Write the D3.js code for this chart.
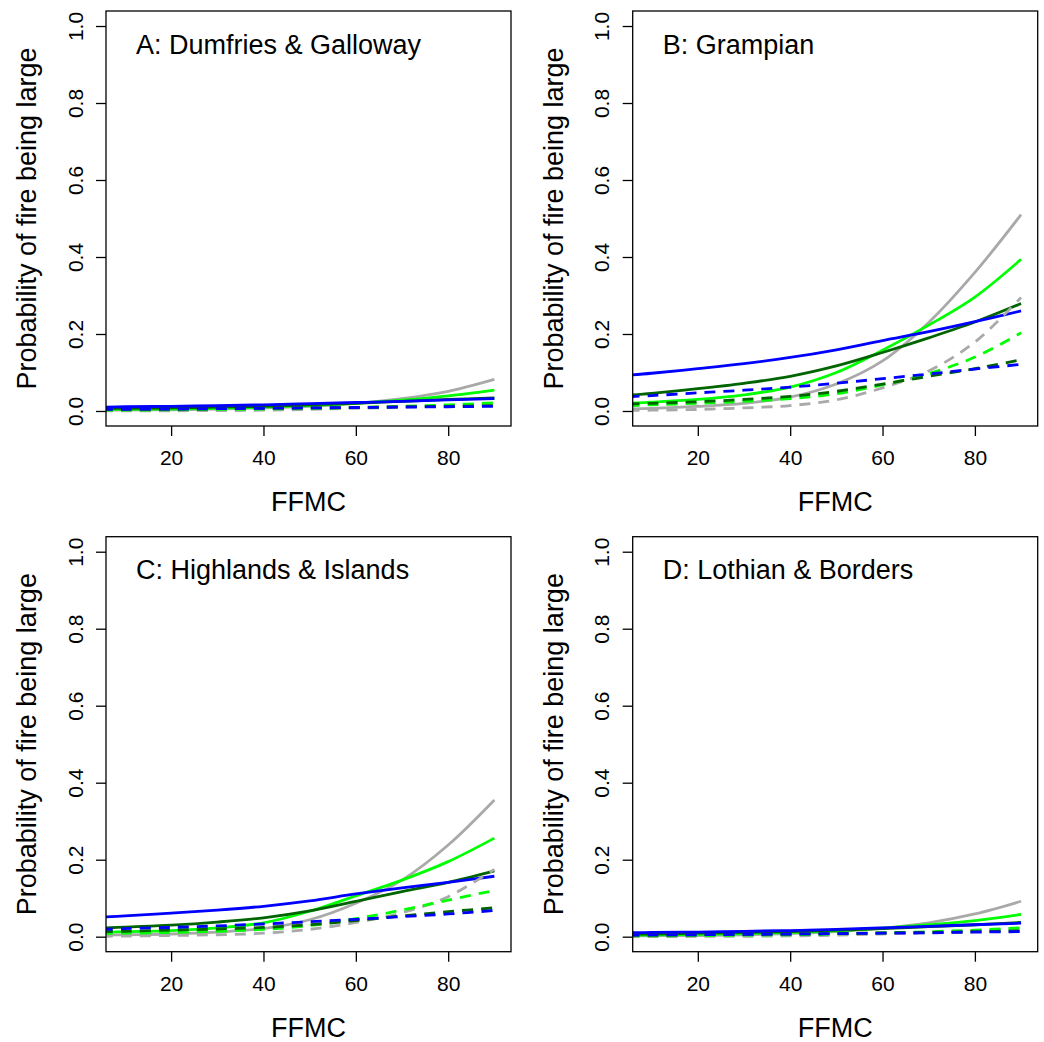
<!DOCTYPE html>
<html>
<head>
<meta charset="utf-8">
<script src="https://cdn.jsdelivr.net/npm/d3@7"></script>
<style>
  body { margin: 0; background: white; }
  svg { display: block; font-family: "Liberation Sans", Arial, sans-serif; }
</style>
</head>
<body>
<svg width="1044" height="1042"></svg>
<script>
// ---- data ----
const ffmc = [5, 10, 20, 30, 40, 50, 60, 70, 80, 90];
const xTicks = [20, 40, 60, 80];
const yTicks = [0, 0.2, 0.4, 0.6, 0.8, 1.0];
const panelTitles = ["A: Dumfries & Galloway", "B: Grampian", "C: Highlands & Islands", "D: Lothian & Borders"];

// A: Dumfries & Galloway
const aGrey      = [0.002, 0.0025, 0.003, 0.005, 0.008, 0.012, 0.02, 0.032, 0.051, 0.082];
const aGreen     = [0.004, 0.0045, 0.005, 0.007, 0.01, 0.014, 0.02, 0.028, 0.039, 0.054];
const aDarkGreen = [0.006, 0.007, 0.008, 0.01, 0.012, 0.016, 0.02, 0.025, 0.03, 0.034];
const aBlue      = [0.01, 0.011, 0.012, 0.014, 0.016, 0.019, 0.022, 0.025, 0.029, 0.032];
const aGreyDash      = [0.0003, 0.0004, 0.0006, 0.001, 0.002, 0.004, 0.007, 0.01, 0.014, 0.02];
const aGreenDash     = [0.002, 0.002, 0.003, 0.004, 0.005, 0.007, 0.009, 0.012, 0.016, 0.021];
const aDarkGreenDash = [0.004, 0.004, 0.005, 0.006, 0.007, 0.008, 0.009, 0.011, 0.012, 0.014];
const aBlueDash      = [0.004, 0.0045, 0.005, 0.006, 0.007, 0.008, 0.009, 0.01, 0.011, 0.012];

// B: Grampian
const bGrey      = [0.005, 0.007, 0.012, 0.02, 0.036, 0.07, 0.13, 0.23, 0.36, 0.51];
const bGreen     = [0.02, 0.023, 0.03, 0.042, 0.062, 0.1, 0.158, 0.223, 0.296, 0.394];
const bDarkGreen = [0.041, 0.046, 0.058, 0.072, 0.09, 0.117, 0.152, 0.19, 0.231, 0.279];
const bBlue      = [0.093, 0.098, 0.11, 0.123, 0.139, 0.159, 0.183, 0.206, 0.232, 0.26];
const bGreyDash      = [0.0015, 0.002, 0.004, 0.008, 0.014, 0.029, 0.06, 0.104, 0.179, 0.295];
const bGreenDash     = [0.014, 0.016, 0.02, 0.025, 0.032, 0.045, 0.068, 0.097, 0.14, 0.203];
const bDarkGreenDash = [0.018, 0.02, 0.024, 0.03, 0.038, 0.051, 0.07, 0.09, 0.11, 0.133];
const bBlueDash      = [0.037, 0.04, 0.047, 0.054, 0.062, 0.072, 0.084, 0.096, 0.109, 0.121];

// C: Highlands & Islands
const cGrey      = [0.004, 0.005, 0.007, 0.012, 0.021, 0.044, 0.087, 0.147, 0.238, 0.355];
const cGreen     = [0.011, 0.013, 0.016, 0.023, 0.036, 0.066, 0.106, 0.147, 0.195, 0.256];
const cDarkGreen = [0.022, 0.025, 0.03, 0.038, 0.049, 0.067, 0.092, 0.117, 0.141, 0.171];
const cBlue      = [0.051, 0.054, 0.061, 0.069, 0.079, 0.093, 0.111, 0.127, 0.141, 0.157];
const cGreyDash      = [0.001, 0.0015, 0.003, 0.005, 0.009, 0.019, 0.037, 0.062, 0.104, 0.175];
const cGreenDash     = [0.008, 0.009, 0.011, 0.014, 0.019, 0.029, 0.047, 0.069, 0.095, 0.12];
const cDarkGreenDash = [0.013, 0.014, 0.017, 0.02, 0.024, 0.031, 0.042, 0.054, 0.065, 0.075];
const cBlueDash      = [0.019, 0.021, 0.024, 0.028, 0.033, 0.039, 0.045, 0.052, 0.059, 0.068];

// D: Lothian & Borders
const dGrey      = [0.002, 0.0025, 0.003, 0.005, 0.008, 0.013, 0.022, 0.036, 0.059, 0.092];
const dGreen     = [0.004, 0.0045, 0.006, 0.008, 0.011, 0.015, 0.022, 0.031, 0.042, 0.058];
const dDarkGreen = [0.007, 0.007, 0.009, 0.011, 0.013, 0.017, 0.021, 0.026, 0.031, 0.037];
const dBlue      = [0.01, 0.011, 0.012, 0.014, 0.016, 0.019, 0.023, 0.027, 0.031, 0.035];
const dGreyDash      = [0.0003, 0.0004, 0.0006, 0.001, 0.002, 0.004, 0.007, 0.01, 0.015, 0.022];
const dGreenDash     = [0.002, 0.002, 0.003, 0.004, 0.005, 0.007, 0.01, 0.013, 0.017, 0.023];
const dDarkGreenDash = [0.004, 0.004, 0.005, 0.006, 0.007, 0.008, 0.01, 0.011, 0.013, 0.015];
const dBlueDash      = [0.004, 0.0045, 0.005, 0.006, 0.007, 0.008, 0.009, 0.01, 0.012, 0.013];

// ---- layout ----
const colours = ["#a9a9a9", "#00ff00", "#006400", "#0000ff"];
const panels = [
  { title: panelTitles[0], left: 106, top: 11, solid: [aGrey, aGreen, aDarkGreen, aBlue], dashed: [aGreyDash, aGreenDash, aDarkGreenDash, aBlueDash] },
  { title: panelTitles[1], left: 632.7, top: 11, solid: [bGrey, bGreen, bDarkGreen, bBlue], dashed: [bGreyDash, bGreenDash, bDarkGreenDash, bBlueDash] },
  { title: panelTitles[2], left: 106, top: 536.7, solid: [cGrey, cGreen, cDarkGreen, cBlue], dashed: [cGreyDash, cGreenDash, cDarkGreenDash, cBlueDash] },
  { title: panelTitles[3], left: 632.7, top: 536.7, solid: [dGrey, dGreen, dDarkGreen, dBlue], dashed: [dGreyDash, dGreenDash, dDarkGreenDash, dBlueDash] }
];
const boxW = 405, boxH = 415;

const svg = d3.select("svg");

const x = d3.scaleLinear().domain([5.9, 93.6]).range([0, boxW]);
const y = d3.scaleLinear().domain([-0.039, 1.039]).range([boxH, 0]);

const line = d3.line()
  .x((d, i) => x(ffmc[i]))
  .y(d => y(d))
  .curve(d3.curveCatmullRom.alpha(0.5));

panels.forEach((p, k) => {
  const g = svg.append("g").attr("transform", `translate(${p.left},${p.top})`);

  g.append("clipPath").attr("id", "clip" + k)
    .append("rect").attr("width", boxW).attr("height", boxH);

  const plot = g.append("g").attr("clip-path", `url(#clip${k})`);

  // solid lines first, then dashed ones
  p.solid.forEach((s, i) => {
    plot.append("path").datum(s)
      .attr("fill", "none")
      .attr("stroke", colours[i])
      .attr("stroke-width", 2.8)
      .attr("d", line);
  });
  p.dashed.forEach((s, i) => {
    plot.append("path").datum(s)
      .attr("fill", "none")
      .attr("stroke", colours[i])
      .attr("stroke-width", 2.8)
      .attr("stroke-dasharray", "11,8")
      .attr("d", line);
  });

  // box
  g.append("rect")
    .attr("width", boxW).attr("height", boxH)
    .attr("fill", "none").attr("stroke", "black").attr("stroke-width", 1.3);

  // x axis
  const xa = g.append("g")
    .attr("transform", `translate(0,${boxH})`)
    .call(d3.axisBottom(x).tickValues(xTicks).tickSize(10).tickPadding(14).tickFormat(d3.format("d")));
  xa.select(".domain").remove();
  xa.selectAll("line").attr("stroke-width", 1.3);
  xa.selectAll("text").attr("font-size", 21).attr("font-family", "Liberation Sans, Arial, sans-serif").attr("fill", "black");

  // y axis, labels rotated like R's default
  const ya = g.append("g")
    .call(d3.axisLeft(y).tickValues(yTicks).tickSize(10).tickFormat(d3.format(".1f")));
  ya.select(".domain").remove();
  ya.selectAll("line").attr("stroke-width", 1.3);
  ya.selectAll("text")
    .attr("x", null).attr("dy", null)
    .attr("font-size", 21).attr("font-family", "Liberation Sans, Arial, sans-serif").attr("fill", "black")
    .attr("text-anchor", "middle")
    .attr("transform", "translate(-23.5,0) rotate(-90)");

  // axis titles
  g.append("text")
    .attr("x", boxW / 2).attr("y", 500)
    .attr("text-anchor", "middle")
    .attr("font-size", 27)
    .text("FFMC");

  g.append("text")
    .attr("transform", `translate(-70,${boxH / 2}) rotate(-90)`)
    .attr("text-anchor", "middle")
    .attr("font-size", 27)
    .text("Probability of fire being large");

  // panel title
  g.append("text")
    .attr("x", 30).attr("y", 42.5)
    .attr("font-size", 27)
    .text(p.title);
});
</script>
</body>
</html>
